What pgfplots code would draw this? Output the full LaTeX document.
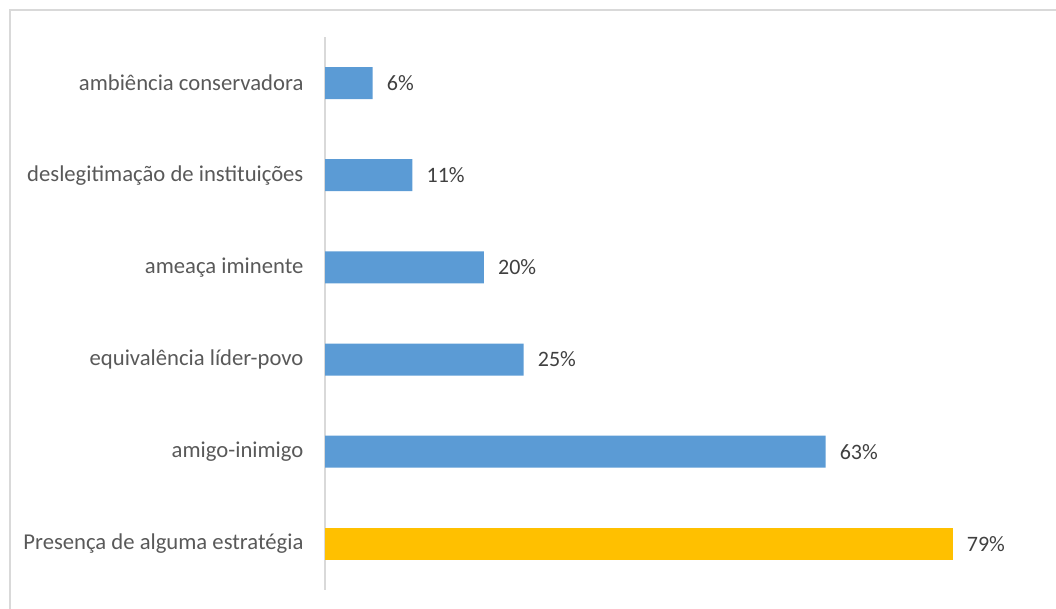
\documentclass[border=0pt]{standalone}
\usepackage{pgfplots}
\pgfplotsset{compat=1.18}
\usepackage{fontspec}
\setmainfont{Carlito}
\definecolor{barblue}{HTML}{5B9BD5}
\definecolor{bargold}{HTML}{FFC000}
\definecolor{framegray}{HTML}{D9D9D9}
\definecolor{labelgray}{HTML}{595959}
\definecolor{valgray}{HTML}{404040}
\begin{document}
\begin{tikzpicture}
\useasboundingbox (0,0) rectangle (792pt,456.75pt);
\draw[color=framegray, line width=1pt] (7.5pt,-10pt) -- (7.5pt,449.25pt) -- (800pt,449.25pt);
\begin{axis}[
  at={(243.75pt,14.25pt)}, anchor=south west,
  scale only axis, width=536.25pt, height=414.75pt,
  xmin=0, xmax=90, ymin=-0.5, ymax=5.5,
  xbar, bar width=24pt, bar shift=0pt,
  axis x line=none,
  axis y line*=left,
  y axis line style={draw=framegray, line width=1pt, -},
  major tick length=0pt,
  ytick={0,1,2,3,4,5},
  yticklabels={Presença de alguma estratégia, amigo-inimigo, equivalência líder-povo, ameaça iminente, deslegitimação de instituições, ambiência conservadora},
  yticklabel style={font=\fontsize{17pt}{20pt}\selectfont, color=labelgray, anchor=east, inner sep=0pt, xshift=-16pt},
  /pgf/number format/assume math mode=true,
  point meta=x,
  nodes near coords={\pgfmathprintnumber{\pgfplotspointmeta}\%},
  every node near coord/.append style={font=\fontsize{16.5pt}{19pt}\selectfont, color=valgray, anchor=west, inner sep=0pt, xshift=10.5pt},
  clip=false,
]
\addplot[fill=barblue, draw=none] coordinates {(63,1) (25,2) (20,3) (11,4) (6,5)};
\addplot[fill=bargold, draw=none] coordinates {(79,0)};
\end{axis}
\end{tikzpicture}
\end{document}
